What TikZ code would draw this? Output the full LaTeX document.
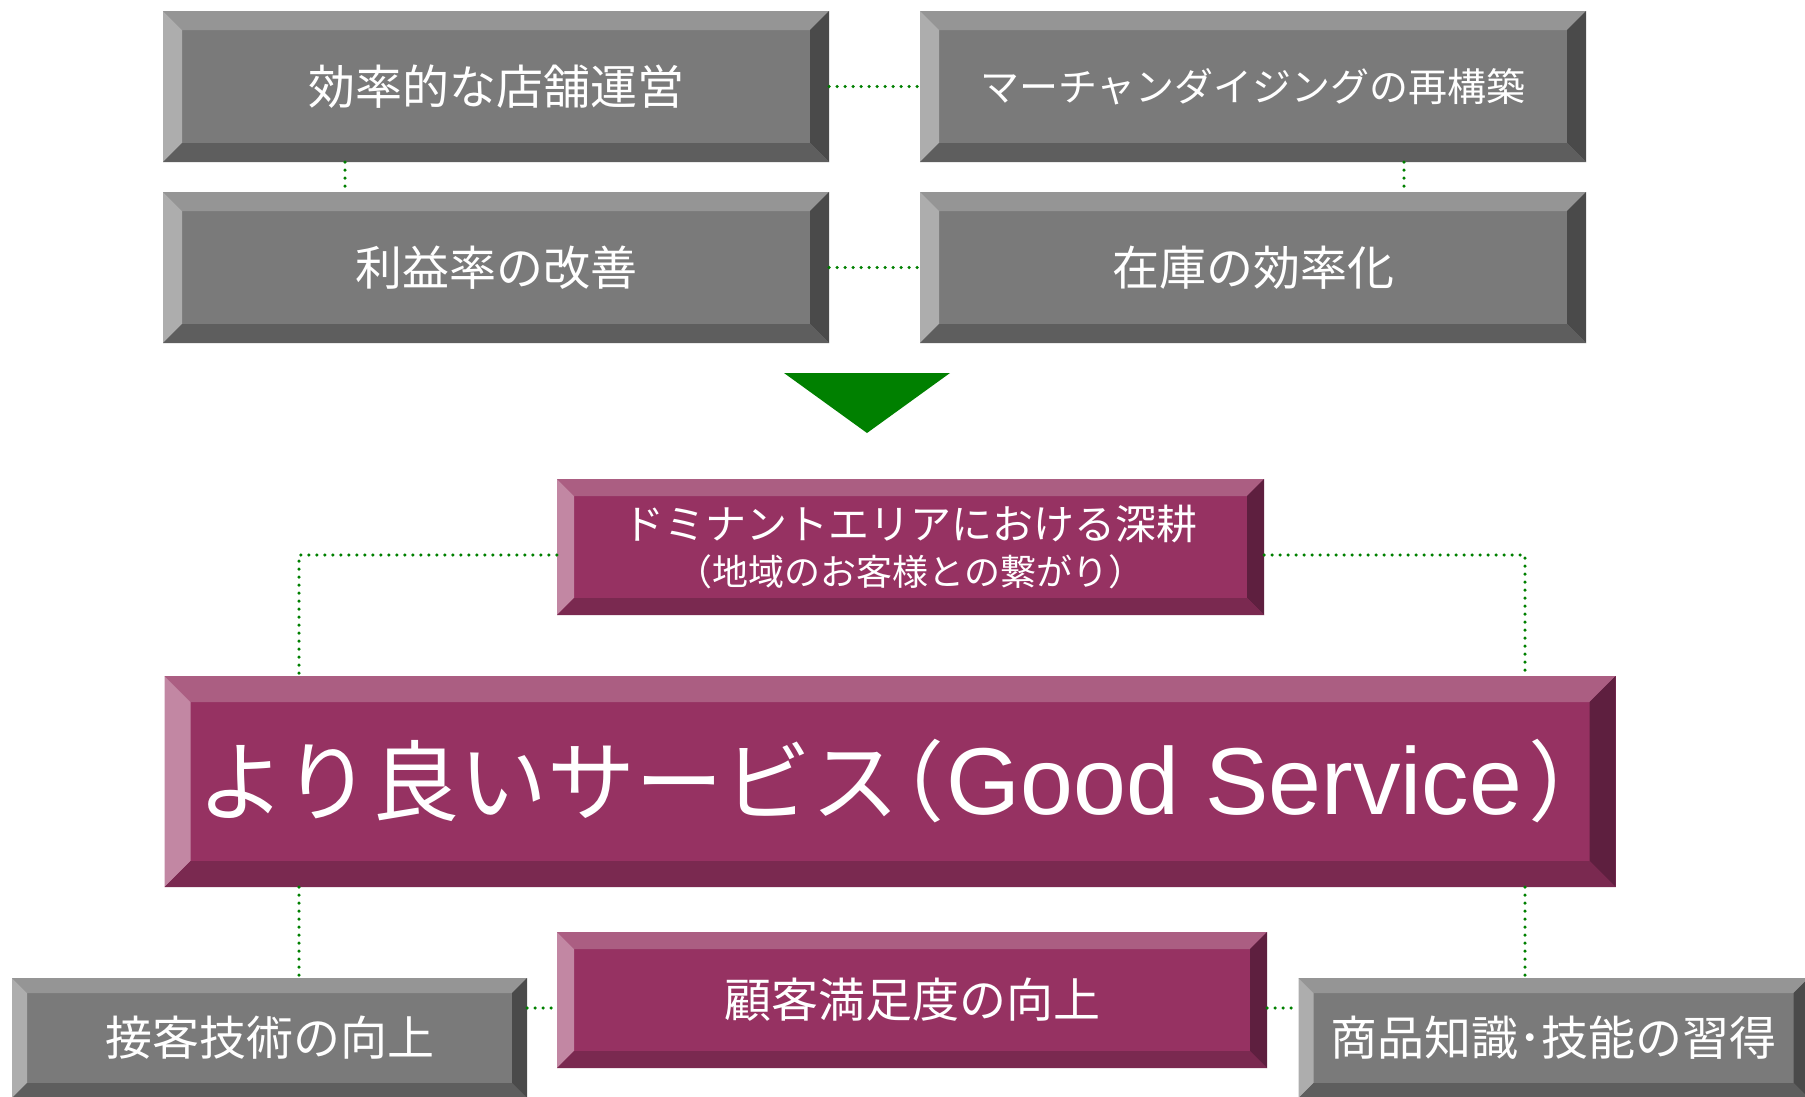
\documentclass[tikz,border=0pt]{standalone}
\usepackage{fontspec}
\newfontfamily\jp{Noto Sans CJK JP}
\newfontfamily\lat{Liberation Sans}
\definecolor{gface}{HTML}{7A7A7A}
\definecolor{gtop}{HTML}{959595}
\definecolor{gleft}{HTML}{ADADAD}
\definecolor{gright}{HTML}{4A4A4A}
\definecolor{gbot}{HTML}{5E5E5E}
\definecolor{mface}{HTML}{963262}
\definecolor{mtop}{HTML}{AB5E82}
\definecolor{mleft}{HTML}{C287A3}
\definecolor{mright}{HTML}{5E1F3F}
\definecolor{mbot}{HTML}{7A2950}
\definecolor{dotgreen}{HTML}{008000}
\tikzset{
  bevbox/.style n args={6}{rectangle, inner sep=0pt, draw=none, fill=#1, text=white, font=\jp,
    path picture={
      \coordinate (bbNW) at (path picture bounding box.north west);
      \coordinate (bbSE) at (path picture bounding box.south east);
      \coordinate (bbNE) at (bbNW -| bbSE);
      \coordinate (bbSW) at (bbNW |- bbSE);
      \coordinate (iNW) at ([xshift=#6,yshift=-#6]bbNW);
      \coordinate (iNE) at ([xshift=-#6,yshift=-#6]bbNE);
      \coordinate (iSE) at ([xshift=-#6,yshift=#6]bbSE);
      \coordinate (iSW) at ([xshift=#6,yshift=#6]bbSW);
      \fill[#2] (bbNW) -- (bbNE) -- (iNE) -- (iNW) -- cycle;
      \fill[#3] (bbNW) -- (iNW) -- (iSW) -- (bbSW) -- cycle;
      \fill[#4] (bbNE) -- (bbSE) -- (iSE) -- (iNE) -- cycle;
      \fill[#5] (bbSW) -- (iSW) -- (iSE) -- (bbSE) -- cycle;
    }},
  gbox/.style={bevbox={gface}{gtop}{gleft}{gright}{gbot}{#1}},
  mbox/.style={bevbox={mface}{mtop}{mleft}{mright}{mbot}{#1}},
  dotline/.style={draw=dotgreen, line width=3.5pt, line cap=round, dash pattern=on 0pt off 8pt},
}
\begin{document}
\begin{tikzpicture}[x=1pt,y=-1pt]
\useasboundingbox (0,0) rectangle (1805,1096);
\fill[white] (0,0) rectangle (1805,1096);

% top gray boxes
\node[gbox=19pt, minimum width=666pt, minimum height=151pt] (n1) at (496,86.5) {\fontsize{47}{56}\selectfont 効率的な店舗運営};
\node[gbox=19pt, minimum width=666pt, minimum height=151pt] (n2) at (496,267.5) {\fontsize{47}{56}\selectfont 利益率の改善};
\node[gbox=19pt, minimum width=666pt, minimum height=151pt] (n3) at (1253,86.5) {\fontsize{39}{48}\selectfont マーチャンダイジングの再構築};
\node[gbox=19pt, minimum width=666pt, minimum height=151pt] (n4) at (1253,267.5) {\fontsize{47}{56}\selectfont 在庫の効率化};

\coordinate (cA) at (345,0);
\coordinate (cB) at (1404,0);
\draw[dotline] (n1.east) -- (n3.west);
\draw[dotline] (n2.east) -- (n4.west);
\draw[dotline] (n1.south -| cA) -- (n2.north -| cA);
\draw[dotline] (n3.south -| cB) -- (n4.north -| cB);

% green triangle
\fill[dotgreen] (784,373) -- (950,373) -- (867,433) -- cycle;

% magenta boxes
\node[mbox=17pt, minimum width=707pt, minimum height=136pt] (d) at (910.5,547)
  {\raisebox{-16pt}{\begin{tabular}{@{}c@{}}\fontsize{41}{46}\selectfont ドミナントエリアにおける深耕\\[11pt]\fontsize{36}{42}\selectfont （地域のお客様との繋がり）\end{tabular}}};
\node[mbox=26pt, minimum width=1451pt, minimum height=211pt] (big) at (890,781.5)
  {\fontsize{88}{96}\selectfont より良いサービス\hspace{-43pt}（\hspace{2pt}{\lat\fontsize{95}{100}\selectfont Good Service}\hspace{6pt}）\hspace{-34pt}\null};
\node[mbox=17pt, minimum width=710pt, minimum height=136pt] (k) at (912,1000)
  {\raisebox{-3pt}{\fontsize{47}{56}\selectfont 顧客満足度の向上}};

% bottom gray boxes
\node[gbox=15pt, minimum width=515pt, minimum height=120pt] (s) at (269.5,1038) {\raisebox{-5pt}{\fontsize{47}{56}\selectfont 接客技術の向上}};
\node[gbox=15pt, minimum width=510pt, minimum height=120pt] (p) at (1553.5,1038) {\raisebox{-5pt}{\fontsize{47}{56}\selectfont 商品知識･技能の習得}};

% connectors
\coordinate (cL) at (299,555);
\coordinate (cR) at (1525,555);
\coordinate (cM) at (0,1008);
\draw[dotline] (d.west |- cL) -- (cL) -- (cL |- big.north);
\draw[dotline] (d.east |- cR) -- (cR) -- (cR |- big.north);
\draw[dotline] (big.south -| cL) -- (s.north -| cL);
\draw[dotline] (big.south -| cR) -- (p.north -| cR);
\draw[dotline] (s.east |- cM) -- (k.west |- cM);
\draw[dotline] (k.east |- cM) -- (p.west |- cM);
\end{tikzpicture}
\end{document}
